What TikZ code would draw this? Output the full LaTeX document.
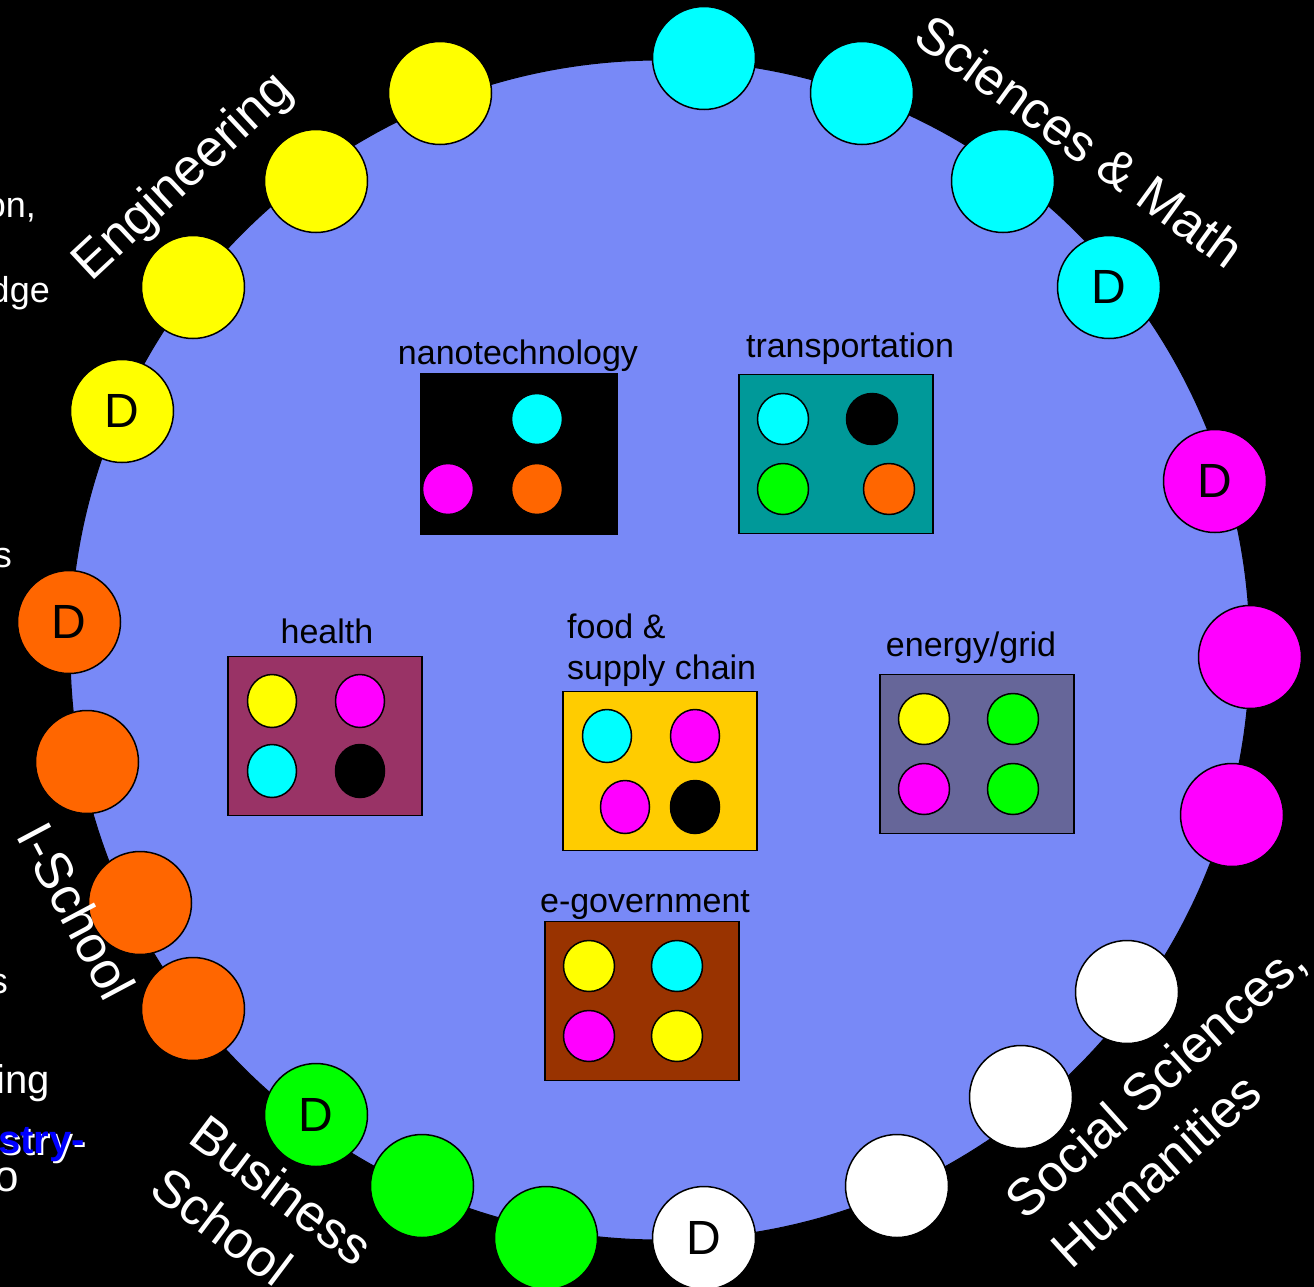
\documentclass[tikz,border=0pt]{standalone}
\usepackage{fontspec}
\setmainfont{Liberation Sans}
\usetikzlibrary{shapes.geometric}
\definecolor{bigblue}{RGB}{120,137,247}
\definecolor{cyanc}{RGB}{0,255,255}
\definecolor{magc}{RGB}{255,0,255}
\definecolor{yelc}{RGB}{255,255,0}
\definecolor{grnc}{RGB}{0,255,0}
\definecolor{orgc}{RGB}{255,102,0}
\definecolor{tealc}{RGB}{0,153,153}
\definecolor{healthc}{RGB}{153,51,102}
\definecolor{foodc}{RGB}{255,204,0}
\definecolor{energyc}{RGB}{102,102,153}
\definecolor{egovc}{RGB}{153,51,0}
\definecolor{bluetext}{RGB}{0,0,255}
\tikzset{
  ball/.style={circle, draw=black, line width=1.5pt, minimum size=103pt, inner sep=0pt,
    font=\fontsize{48}{48}\selectfont, text=black},
  dot/.style={circle, draw=black, line width=1.5pt, minimum size=51pt, inner sep=0pt},
  oval/.style={ellipse, draw=black, line width=1.5pt, minimum width=49pt, minimum height=53pt, inner sep=0pt},
  panel/.style={rectangle, draw=black, line width=1.5pt, minimum width=194pt, minimum height=159pt, inner sep=0pt},
  lbl/.style={font=\fontsize{34}{40}\selectfont, text=black, inner sep=0pt},
  outer/.style={font=\fontsize{52}{60}\selectfont, text=white, inner sep=0pt},
  side/.style={font=\fontsize{36}{40}\selectfont, text=white, inner sep=0pt, anchor=base east},
}
\begin{document}
\begin{tikzpicture}[x=1pt,y=-1pt]
\useasboundingbox (0,0) rectangle (1314,1287);
\fill[black] (0,0) rectangle (1314,1287);
% big circle
\node[circle, fill=bigblue, draw=black, line width=1pt, minimum size=1180pt, inner sep=0pt] (big) at (660,650) {};

% outer balls: Engineering (yellow)
\node[ball, fill=yelc] (e1) at (440,93) {};
\node[ball, fill=yelc] (e2) at (316,181) {};
\node[ball, fill=yelc] (e3) at (193,287) {};
\node[ball, fill=yelc] (e4) at (122,411) {D};
% Sciences & Math (cyan)
\node[ball, fill=cyanc] (s1) at (704,58) {};
\node[ball, fill=cyanc] (s2) at (862,93) {};
\node[ball, fill=cyanc] (s3) at (1003,181) {};
\node[ball, fill=cyanc] (s4) at (1109,287) {D};
% magenta
\node[ball, fill=magc] (m1) at (1215,481) {D};
\node[ball, fill=magc] (m2) at (1250,657) {};
\node[ball, fill=magc] (m3) at (1232,815) {};
% Social sciences (white)
\node[ball, fill=white] (w1) at (1127,992) {};
\node[ball, fill=white] (w2) at (1021,1097) {};
\node[ball, fill=white] (w3) at (897,1186) {};
\node[ball, fill=white] (w4) at (704,1238) {D};
% Business (green)
\node[ball, fill=grnc] (g1) at (316,1115) {D};
\node[ball, fill=grnc] (g2) at (422,1186) {};
\node[ball, fill=grnc] (g3) at (546,1238) {};
% I-School (orange)
\node[ball, fill=orgc] (o1) at (69,622) {D};
\node[ball, fill=orgc] (o2) at (87,762) {};
\node[ball, fill=orgc] (o3) at (140,903) {};
\node[ball, fill=orgc] (o4) at (193,1009) {};

% nanotechnology
\node[lbl, anchor=base] (nanol) at (518,364) {nanotechnology};
\node[panel, fill=black, minimum width=196pt, minimum height=161pt] (nano) at (519,454) {};
\node[dot, fill=cyanc] (n1) at (537,419) {};
\node[dot, fill=magc] (n2) at (448,489) {};
\node[dot, fill=orgc] (n3) at (537,489) {};

% transportation
\node[lbl, anchor=base] (transl) at (850,357) {transportation};
\node[panel, fill=tealc] (trans) at (836,454) {};
\node[dot, fill=cyanc] (t1) at (783,419) {};
\node[dot, fill=black] (t2) at (872,419) {};
\node[dot, fill=grnc] (t3) at (783,489) {};
\node[dot, fill=orgc] (t4) at (889,489) {};

% health
\node[lbl, anchor=base] (healthl) at (327,643) {health};
\node[panel, fill=healthc] (health) at (325,736) {};
\node[oval, fill=yelc] (h1) at (272,701) {};
\node[oval, fill=magc] (h2) at (360,701) {};
\node[oval, fill=cyanc] (h3) at (272,771) {};
\node[oval, fill=black] (h4) at (360,771) {};

% food & supply chain
\node[lbl, anchor=base west] (foodl1) at (567,638) {food \&};
\node[lbl, anchor=base west] (foodl2) at (567,679) {supply chain};
\node[panel, fill=foodc] (food) at (660,771) {};
\node[oval, fill=cyanc] (f1) at (607,736) {};
\node[oval, fill=magc] (f2) at (695,736) {};
\node[oval, fill=magc] (f3) at (625,807) {};
\node[oval, fill=black] (f4) at (695,807) {};

% energy/grid
\node[lbl, anchor=base] (energyl) at (971,656) {energy/grid};
\node[panel, fill=energyc] (energy) at (977,754) {};
\node[dot, fill=yelc] (en1) at (924,719) {};
\node[dot, fill=grnc] (en2) at (1013,719) {};
\node[dot, fill=magc] (en3) at (924,789) {};
\node[dot, fill=grnc] (en4) at (1013,789) {};

% e-government
\node[lbl, anchor=base] (egovl) at (645,912) {e-government};
\node[panel, fill=egovc] (egov) at (642,1001) {};
\node[dot, fill=yelc] (eg1) at (589,966) {};
\node[dot, fill=cyanc] (eg2) at (677,966) {};
\node[dot, fill=magc] (eg3) at (589,1036) {};
\node[dot, fill=yelc] (eg4) at (677,1036) {};

% outer labels
\node[outer, rotate=43] (engl) at (184,178) {Engineering};
\node[outer, rotate=-36] (scil) at (1080,141) {Sciences \& Math};
\node[outer, rotate=42] (socl1) at (1157,1082) {Social Sciences,};
\node[outer, rotate=42] (socl2) at (1156,1170) {Humanities};
\node[outer, rotate=-37] (busl1) at (282,1190) {Business};
\node[outer, rotate=-37] (busl2) at (222,1226) {School};
\node[outer, rotate=-62] (isch) at (77,911) {I-School};

% cut-off side texts
\node[side] (sa) at (36,217) {on,};
\node[side] (sb) at (50,302) {dge};
\node[side] (sc) at (12,567) {s};
\node[side] (sd) at (8,993) {s};
\node[side, font=\fontsize{40}{44}\selectfont] (se) at (50,1093) {ing};
\node[side, font=\fontsize{40}{44}\selectfont\bfseries] (sf0) at (87,1155) {stry-};
\node[side, font=\fontsize{40}{44}\selectfont\bfseries, text=bluetext] (sf) at (85,1153) {stry-};
\node[side, font=\fontsize{44}{48}\selectfont] (sg) at (19,1191) {o};
\end{tikzpicture}
\end{document}
